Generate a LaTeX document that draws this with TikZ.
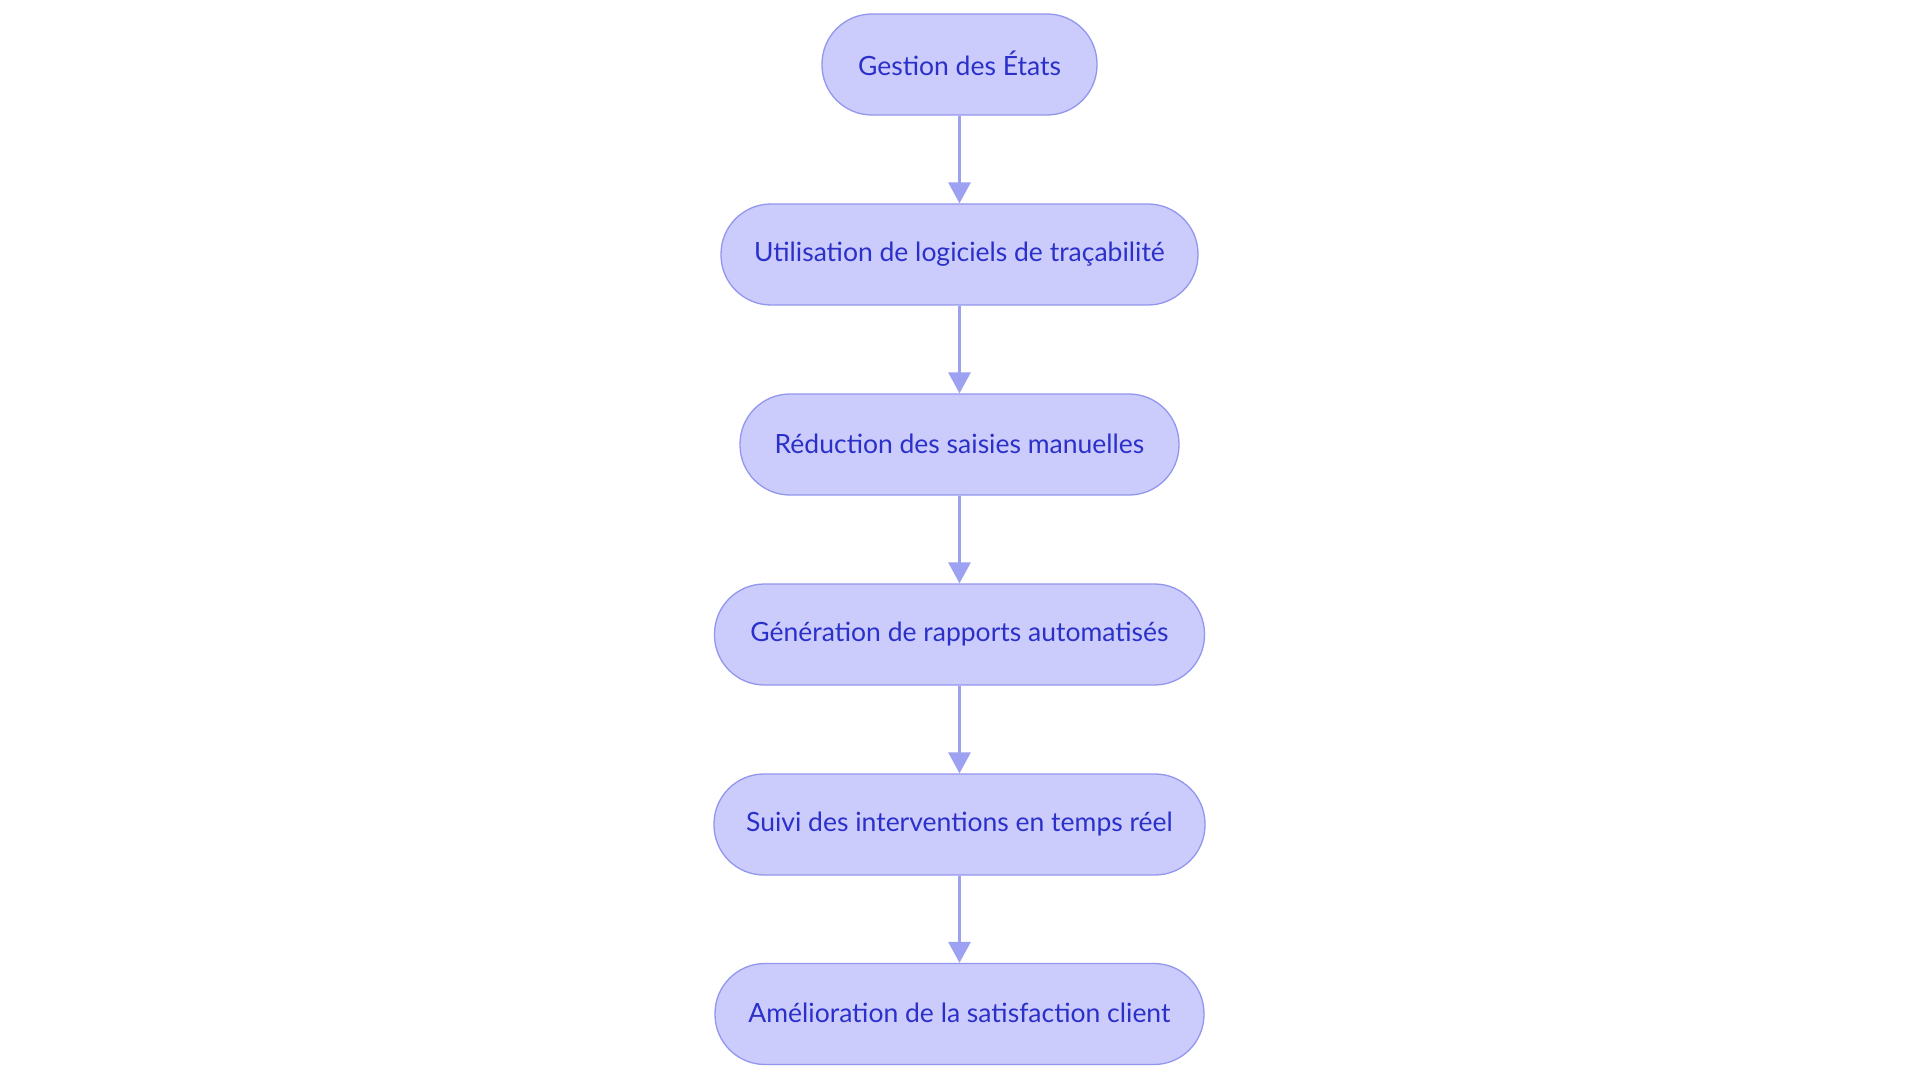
\documentclass[tikz,border=0pt]{standalone}
\usepackage{fontspec}
\setmainfont{Lato}
\usetikzlibrary{arrows.meta}
\definecolor{nodefill}{HTML}{CBCCFC}
\definecolor{nodeline}{HTML}{9396EE}
\definecolor{nodetext}{HTML}{2B30C9}
\definecolor{arrowcol}{HTML}{9DA1F1}
\begin{document}
\begin{tikzpicture}[x=1pt,y=-1pt,
  flowbox/.style={draw=nodeline, line width=1.3pt, fill=nodefill, text=nodetext,
    rounded corners=50pt, minimum height=101pt, inner sep=0pt,
    font=\fontsize{26.5}{30}\selectfont},
  flowarrow/.style={draw=arrowcol, line width=3pt,
    -{Triangle[length=21pt,width=22pt,fill=arrowcol]}}]
\fill[white] (0,0) rectangle (1920,1083);
\useasboundingbox (0,0) rectangle (1920,1083);
\node[flowbox, minimum width=275pt] (n1) at (959.5,64.5) {\raisebox{2pt}{Gestion des États}};
\node[flowbox, minimum width=477pt] (n2) at (959.5,254.5) {\raisebox{2pt}{Utilisation de logiciels de traçabilité}};
\node[flowbox, minimum width=439pt] (n3) at (959.5,444.5) {\raisebox{2pt}{Réduction des saisies manuelles}};
\node[flowbox, minimum width=490pt] (n4) at (959.5,634.5) {\raisebox{2pt}{Génération de rapports automatisés}};
\node[flowbox, minimum width=491pt] (n5) at (959.5,824.5) {\raisebox{2pt}{Suivi des interventions en temps réel}};
\node[flowbox, minimum width=489pt] (n6) at (959.5,1014) {\raisebox{2pt}{Amélioration de la satisfaction client}};
\draw[flowarrow] (n1) -- (n2);
\draw[flowarrow] (n2) -- (n3);
\draw[flowarrow] (n3) -- (n4);
\draw[flowarrow] (n4) -- (n5);
\draw[flowarrow] (n5) -- (n6);
\end{tikzpicture}
\end{document}
